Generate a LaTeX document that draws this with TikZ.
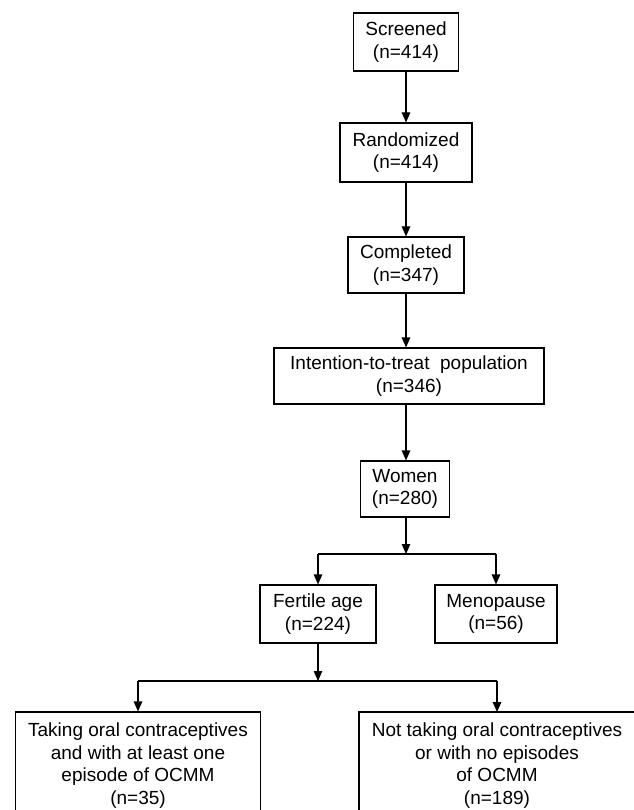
\documentclass[tikz,border=0pt]{standalone}
\usepackage{fontspec}
\setmainfont{Liberation Sans}
\usetikzlibrary{arrows.meta}
\begin{document}
\begin{tikzpicture}[x=1pt,y=-1pt,
  box/.style={draw, line width=1.1pt, rectangle, align=center, inner sep=0pt,
    font=\fontsize{19}{22.5}\selectfont},
  arr/.style={line width=1.1pt, -{Triangle[length=10pt,width=8.5pt]}},
  ln/.style={line width=1.1pt}]
\useasboundingbox (0,0) rectangle (633,810);
\node[box, minimum width=105pt, minimum height=58pt] (scr) at (406,42) {Screened\\(n=414)};
\node[box, minimum width=132pt, minimum height=59pt] (ran) at (406,152.5) {Randomized\\(n=414)};
\node[box, minimum width=116pt, minimum height=56pt] (com) at (406,265) {Completed\\(n=347)};
\node[box, minimum width=270pt, minimum height=56pt] (itt) at (409,376) {Intention-to-treat\ \ population\\(n=346)};
\node[box, minimum width=89pt, minimum height=56pt] (wom) at (405,489) {Women\\(n=280)};
\coordinate (b1) at (406,554);
\node[box, minimum width=116pt, minimum height=58pt] (fer) at (318,614) {Fertile age\\(n=224)};
\node[box, minimum width=122pt, minimum height=58pt] (men) at (496,614) {Menopause\\(n=56)};
\coordinate (b2) at (318,681);
\node[box, minimum width=245pt, minimum height=107pt] (tak) at (138,765.5) {Taking oral contraceptives\\and with at least one\\episode of OCMM\\(n=35)};
\node[box, minimum width=290pt, minimum height=107pt] (not) at (504,765.5) {};
\node[align=center, inner sep=0pt, font=\fontsize{19}{22.5}\selectfont] (nottxt) at (497,765.5) {Not taking oral contraceptives\\or with no episodes\\of OCMM\\(n=189)};
\coordinate (ntop) at (497,712);
\draw[arr] (scr.south) -- (scr.south |- ran.north);
\draw[arr] (ran.south) -- (ran.south |- com.north);
\draw[arr] (com.south) -- (com.south |- itt.north);
\draw[arr] (com.south |- itt.south) -- (com.south |- wom.north);
\draw[arr] (com.south |- wom.south) -- (b1);
\draw[ln] (fer.north |- b1) -- (men.north |- b1);
\draw[arr] (fer.north |- b1) -- (fer.north);
\draw[arr] (men.north |- b1) -- (men.north);
\draw[arr] (fer.south) -- (b2);
\draw[ln] (tak.north |- b2) -- (ntop |- b2);
\draw[arr] (tak.north |- b2) -- (tak.north);
\draw[arr] (ntop |- b2) -- (ntop);
\end{tikzpicture}
\end{document}
